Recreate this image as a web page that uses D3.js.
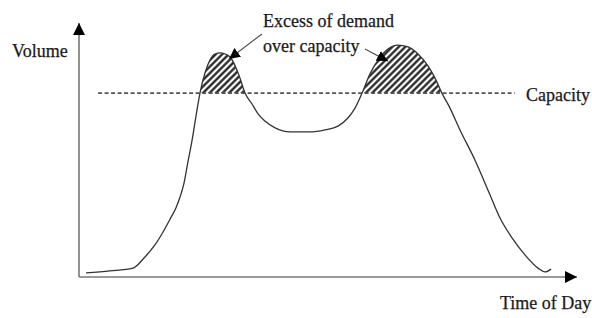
<!DOCTYPE html>
<html>
<head>
<meta charset="utf-8">
<script src="https://cdn.jsdelivr.net/npm/d3@7"></script>
<style>
  body { margin: 0; background: #fff; }
  svg text { font-family: "Liberation Serif", "Times New Roman", serif; font-size: 18px; fill: #1a1a1a; stroke: #1a1a1a; stroke-width: 0.25px; }
</style>
</head>
<body>
<svg id="chart" width="592" height="318"></svg>
<script>
// demand curve (hour of day, volume 0-100)
var hours  = [0.34, 1.49, 2.60, 3.18, 3.66, 4.05, 4.39, 4.67, 4.87, 5.06, 5.25, 5.45, 5.64, 5.83,
              6.07, 6.31, 6.55, 6.80, 7.04, 7.28, 7.57, 7.76, 8.00, 8.34, 8.63, 8.96, 9.45, 10.17,
              11.13, 11.86, 12.48, 12.96, 13.30, 13.64,
              14.02, 14.41, 14.89, 15.37, 15.86, 16.34, 16.82, 17.20, 17.49, 17.88, 18.36, 19.08, 19.81,
              20.29, 20.87, 21.49, 22.12, 22.46, 22.75];
var volume = [1.6, 2.4, 3.5, 7.9, 12.6, 17.7, 22.8, 27.2, 31.5, 37.0, 45.3, 53.9, 63.4, 72.4,
              80.3, 85.4, 87.8, 88.2, 87.8, 86.6, 82.3, 78.3, 72.4, 68.1, 64.2, 61.4, 58.7, 57.1,
              57.1, 57.9, 59.4, 62.6, 66.5, 72.4,
              79.9, 85.4, 89.8, 91.3, 90.6, 87.8, 83.1, 77.6, 72.4, 66.5, 57.9, 46.1, 32.3,
              23.2, 15.4, 8.7, 3.5, 2.0, 3.1];
var capacity = 72.4;
var capacitySpan = [0.92, 21.0];

// annotation arrows: [tailHour, tailVol, headHour, headVol]
var arrows = [[8.82, 95.7, 7.23, 85.8], [13.78, 89.8, 14.89, 85.0]];

var labels = ["Volume", "Time of Day", "Capacity", "Excess of demand", "over capacity"];

var width = 592, height = 318;
var svg = d3.select('#chart');

var x = d3.scaleLinear().domain([0, 24]).range([79, 577]);
var y = d3.scaleLinear().domain([0, 100]).range([277, 23]);

var pts = hours.map(function(h, i){ return [h, volume[i]]; });

var defs = svg.append('defs');

// hatch pattern for the excess areas
var hs = 4.6;
var pat = defs.append('pattern')
    .attr('id', 'hatch')
    .attr('patternUnits', 'userSpaceOnUse')
    .attr('width', hs).attr('height', hs)
    .attr('patternTransform', 'rotate(45)');
pat.append('rect').attr('width', hs).attr('height', hs).attr('fill', '#fff');
pat.append('line')
    .attr('x1', hs / 2).attr('y1', 0).attr('x2', hs / 2).attr('y2', hs)
    .attr('stroke', '#1a1a1a').attr('stroke-width', 2.2);

defs.append('clipPath').attr('id', 'above')
  .append('rect')
    .attr('x', 0).attr('y', 0)
    .attr('width', width).attr('height', y(capacity));

function arrowMarker(id, w, h){
  defs.append('marker')
      .attr('id', id)
      .attr('viewBox', '0 0 10 10')
      .attr('refX', 10).attr('refY', 5)
      .attr('markerUnits', 'userSpaceOnUse')
      .attr('markerWidth', w).attr('markerHeight', h)
      .attr('orient', 'auto')
    .append('path')
      .attr('d', 'M0,0L10,5L0,10Z')
      .attr('fill', '#000');
}
arrowMarker('axisHead', 13, 12);
arrowMarker('noteHead', 11, 11);

var curve = d3.curveMonotoneX;

// hatched excess over capacity
var area = d3.area()
    .x(function(d){ return x(d[0]); })
    .y0(y(capacity))
    .y1(function(d){ return y(d[1]); })
    .curve(curve);

svg.append('path')
    .attr('d', area(pts))
    .attr('clip-path', 'url(#above)')
    .attr('fill', 'url(#hatch)');

// capacity line
svg.append('line')
    .attr('x1', x(capacitySpan[0])).attr('x2', x(capacitySpan[1]))
    .attr('y1', y(capacity)).attr('y2', y(capacity))
    .attr('stroke', '#555')
    .attr('stroke-width', 1.6)
    .attr('stroke-dasharray', '4,2.5');

// demand curve
var line = d3.line()
    .x(function(d){ return x(d[0]); })
    .y(function(d){ return y(d[1]); })
    .curve(curve);

svg.append('path')
    .attr('d', line(pts))
    .attr('fill', 'none')
    .attr('stroke', '#333')
    .attr('stroke-width', 1.3);

// axes with arrow heads
svg.append('line')
    .attr('x1', x(0)).attr('y1', y(0)).attr('x2', x(0)).attr('y2', y(100))
    .attr('stroke', '#777').attr('stroke-width', 1.6)
    .attr('marker-end', 'url(#axisHead)');
svg.append('line')
    .attr('x1', x(0)).attr('y1', y(0)).attr('x2', x(24)).attr('y2', y(0))
    .attr('stroke', '#777').attr('stroke-width', 1.6)
    .attr('marker-end', 'url(#axisHead)');

// annotation arrows
arrows.forEach(function(a){
  svg.append('line')
      .attr('x1', x(a[0])).attr('y1', y(a[1]))
      .attr('x2', x(a[2])).attr('y2', y(a[3]))
      .attr('stroke', '#555').attr('stroke-width', 1.2)
      .attr('marker-end', 'url(#noteHead)');
});

// texts
svg.append('text').attr('x', 12).attr('y', 57).text(labels[0]);
svg.append('text').attr('x', 500).attr('y', 309).text(labels[1]);
svg.append('text').attr('x', 526).attr('y', 101).text(labels[2]);
svg.append('text').attr('x', 263).attr('y', 27).text(labels[3]);
svg.append('text').attr('x', 263).attr('y', 52).text(labels[4]);
</script>
</body>
</html>
